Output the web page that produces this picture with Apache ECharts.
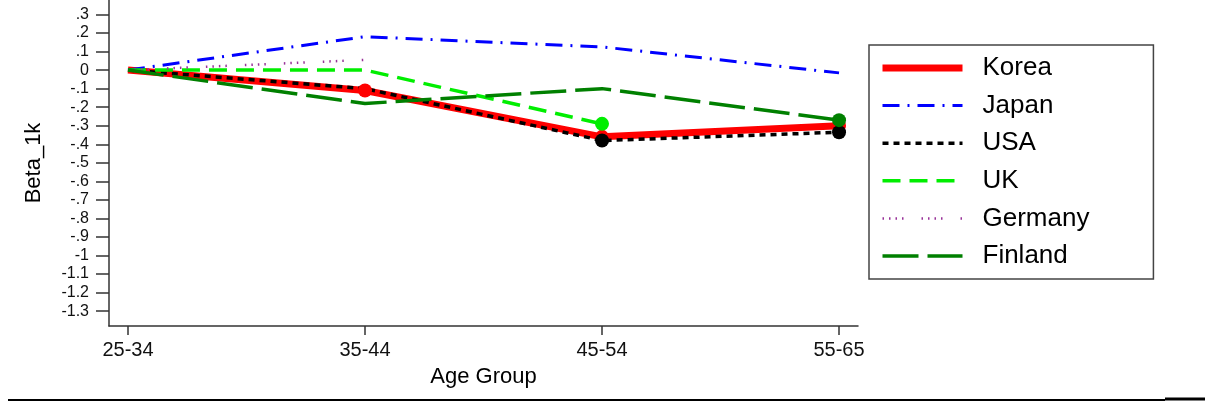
<!DOCTYPE html>
<html>
<head>
<meta charset="utf-8">
<script src="https://cdn.jsdelivr.net/npm/echarts@6/dist/echarts.min.js"></script>
<style>
html,body{margin:0;padding:0;background:#fff;}
#chart{width:1205px;height:403px;}
</style>
</head>
<body>
<div id="chart"></div>
<script>
const categories = ['25-34', '35-44', '45-54', '55-65'];
const korea   = [0, -0.11, -0.36, -0.30];
const japan   = [0, 0.18, 0.125, -0.015];
const usa     = [0, -0.10, -0.38, -0.335];
const uk      = [0, 0, -0.29, null];
const germany = [0, 0.055, null, null];
const finland = [0, -0.18, -0.10, -0.27];
const yTickValues = [0.3, 0.2, 0.1, 0, -0.1, -0.2, -0.3, -0.4, -0.5, -0.6, -0.7, -0.8, -0.9, -1, -1.1, -1.2, -1.3];
const xTickValues = [0, 1, 2, 3];

// indices of points that carry a dot marker
const koreaDots = [1, 2, 3];
const japanDots = [];
const usaDots = [2, 3];
const ukDots = [2];
const germanyDots = [];
const finlandDots = [3];

const FONT = 'Liberation Sans, Arial, sans-serif';

function fmtY(v) {
  if (v === 0) return '0';
  let s = String(Math.round(v * 10) / 10);
  s = s.replace(/^(-?)0\./, '$1.');
  return s;
}

function mkData(arr, dots, size) {
  return arr.map((v, i) => {
    if (v === null) return [i, null];
    const item = { value: [i, v] };
    if (dots.indexOf(i) >= 0) { item.symbol = 'circle'; item.symbolSize = size; }
    return item;
  });
}

function mkSeries(name, arr, dots, color, width, dash, size) {
  return {
    name: name,
    type: 'line',
    data: mkData(arr, dots, size),
    symbol: 'none',
    connectNulls: false,
    lineStyle: { color: color, width: width, type: dash, cap: 'butt' },
    itemStyle: { color: color },
    emphasis: { disabled: true },
    animation: false
  };
}

const chart = echarts.init(document.getElementById('chart'), null, { renderer: 'canvas' });
chart.setOption({
  backgroundColor: '#fff',
  animation: false,
  grid: { left: 109, right: 347, top: 0, bottom: 77, containLabel: false },
  xAxis: {
    type: 'value',
    min: -0.08,
    max: 3.08,
    name: 'Age Group',
    nameLocation: 'middle',
    nameGap: 40,
    nameTextStyle: { fontFamily: FONT, fontSize: 22, color: '#000' },
    axisLine: { show: true, onZero: false, lineStyle: { color: '#333', width: 1.5 } },
    axisTick: { show: true, length: 9, customValues: xTickValues, lineStyle: { color: '#333', width: 1.5 } },
    axisLabel: {
      customValues: xTickValues,
      margin: 14,
      fontFamily: FONT, fontSize: 20, color: '#111',
      formatter: v => categories[Math.round(v)] || ''
    },
    splitLine: { show: false }
  },
  yAxis: {
    type: 'value',
    min: -1.38,
    max: 0.378,
    name: 'Beta_1k',
    nameLocation: 'middle',
    nameGap: 64,
    nameTextStyle: { fontFamily: FONT, fontSize: 22, color: '#000' },
    axisLine: { show: true, onZero: false, lineStyle: { color: '#333', width: 1.5 } },
    axisTick: { show: true, length: 13, customValues: yTickValues, lineStyle: { color: '#333', width: 1.5 } },
    axisLabel: {
      customValues: yTickValues,
      margin: 20,
      fontFamily: FONT, fontSize: 16, color: '#111',
      formatter: v => fmtY(v)
    },
    splitLine: { show: false }
  },
  legend: {
    orient: 'vertical',
    left: 869,
    top: 45,
    padding: [8, 64, 8, 10],
    itemWidth: 80,
    itemHeight: 14,
    itemGap: 7.6,
    borderColor: '#444',
    borderWidth: 1.5,
    backgroundColor: '#fff',
    itemStyle: { color: 'transparent', borderColor: 'transparent', borderWidth: 0, opacity: 0 },
    lineStyle: { width: 'inherit' },
    textStyle: { fontFamily: FONT, fontSize: 26, color: '#000', lineHeight: 30, padding: [0, 0, 0, 15] },
    data: ['Korea', 'Japan', 'USA', 'UK', 'Germany', 'Finland']
  },
  graphic: [
    { type: 'line', shape: { x1: 8, y1: 400, x2: 1165, y2: 400 }, style: { stroke: '#000', lineWidth: 2 } },
    { type: 'line', shape: { x1: 1165, y1: 399, x2: 1205, y2: 399 }, style: { stroke: '#000', lineWidth: 3 } }
  ],
  series: [
    mkSeries('Korea', korea, koreaDots, '#ff0000', 7, 'solid', 14),
    mkSeries('Japan', japan, japanDots, '#0000ff', 3, [17, 8, 2, 8], 14),
    mkSeries('USA', usa, usaDots, '#000000', 3.5, [6, 5], 14),
    mkSeries('UK', uk, ukDots, '#00ee00', 3.5, [18, 9], 14),
    mkSeries('Germany', germany, germanyDots, '#993399', 2.5, [1.5, 5, 1.5, 5, 1.5, 5, 1.5, 18], 14),
    mkSeries('Finland', finland, finlandDots, '#008000', 3.5, [36, 9], 14)
  ]
});
</script>
</body>
</html>
